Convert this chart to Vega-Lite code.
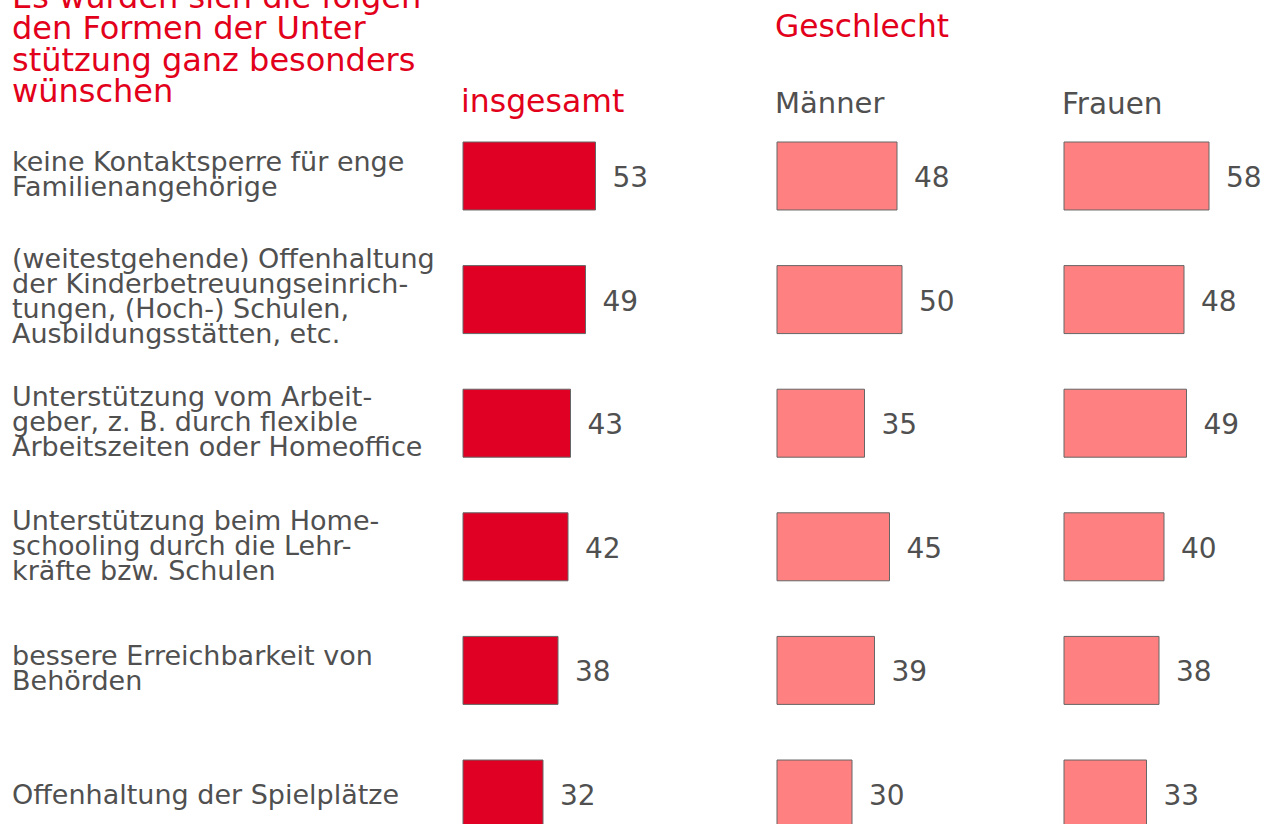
{
  "$schema": "https://vega.github.io/schema/vega-lite/v6.json",
  "padding": {"left": 12, "top": -19, "right": 0, "bottom": 0},
  "autosize": {"type": "pad"},
  "background": "white",
  "spacing": 0,
  "bounds": "flush",
  "config": {"view": {"stroke": null}, "font": "DejaVu Sans"},
  "resolve": {"scale": {"x": "independent", "y": "shared"}},
  "data": {"values": [
    {"item": "keine Kontaktsperre für enge\nFamilienangehörige", "group": "insgesamt", "value": 53},
    {"item": "keine Kontaktsperre für enge\nFamilienangehörige", "group": "Männer", "value": 48},
    {"item": "keine Kontaktsperre für enge\nFamilienangehörige", "group": "Frauen", "value": 58},
    {"item": "(weitestgehende) Offenhaltung\nder Kinderbetreuungseinrich-\ntungen, (Hoch-) Schulen,\nAusbildungsstätten, etc.", "group": "insgesamt", "value": 49},
    {"item": "(weitestgehende) Offenhaltung\nder Kinderbetreuungseinrich-\ntungen, (Hoch-) Schulen,\nAusbildungsstätten, etc.", "group": "Männer", "value": 50},
    {"item": "(weitestgehende) Offenhaltung\nder Kinderbetreuungseinrich-\ntungen, (Hoch-) Schulen,\nAusbildungsstätten, etc.", "group": "Frauen", "value": 48},
    {"item": "Unterstützung vom Arbeit-\ngeber,  z. B. durch flexible\nArbeitszeiten oder Homeoffice", "group": "insgesamt", "value": 43},
    {"item": "Unterstützung vom Arbeit-\ngeber,  z. B. durch flexible\nArbeitszeiten oder Homeoffice", "group": "Männer", "value": 35},
    {"item": "Unterstützung vom Arbeit-\ngeber,  z. B. durch flexible\nArbeitszeiten oder Homeoffice", "group": "Frauen", "value": 49},
    {"item": "Unterstützung beim Home-\nschooling durch die Lehr-\nkräfte bzw. Schulen", "group": "insgesamt", "value": 42},
    {"item": "Unterstützung beim Home-\nschooling durch die Lehr-\nkräfte bzw. Schulen", "group": "Männer", "value": 45},
    {"item": "Unterstützung beim Home-\nschooling durch die Lehr-\nkräfte bzw. Schulen", "group": "Frauen", "value": 40},
    {"item": "bessere Erreichbarkeit von\nBehörden", "group": "insgesamt", "value": 38},
    {"item": "bessere Erreichbarkeit von\nBehörden", "group": "Männer", "value": 39},
    {"item": "bessere Erreichbarkeit von\nBehörden", "group": "Frauen", "value": 38},
    {"item": "Offenhaltung der Spielplätze", "group": "insgesamt", "value": 32},
    {"item": "Offenhaltung der Spielplätze", "group": "Männer", "value": 30},
    {"item": "Offenhaltung der Spielplätze", "group": "Frauen", "value": 33}
  ]},
  "hconcat": [
    {
      "width": 451, "height": 686,
      "title": {"text": ["Es würden sich die folgen", "den Formen der Unter", "stützung ganz besonders", "wünschen"], "anchor": "start", "frame": "group", "fontSize": 32, "lineHeight": 31.5, "color": "#E2001A", "fontWeight": "normal", "offset": 33},
      "transform": [{"filter": "datum.group === 'insgesamt'"}],
      "encoding": {
        "y": {"field": "item", "type": "nominal", "sort": ["keine Kontaktsperre für enge\nFamilienangehörige", "(weitestgehende) Offenhaltung\nder Kinderbetreuungseinrich-\ntungen, (Hoch-) Schulen,\nAusbildungsstätten, etc.", "Unterstützung vom Arbeit-\ngeber,  z. B. durch flexible\nArbeitszeiten oder Homeoffice", "Unterstützung beim Home-\nschooling durch die Lehr-\nkräfte bzw. Schulen", "bessere Erreichbarkeit von\nBehörden", "Offenhaltung der Spielplätze"], "scale": {"type": "band", "paddingInner": 0.45, "paddingOuter": 0}, "axis": null},
        "x": {"datum": 0, "type": "quantitative", "scale": {"domain": [0, 1]}, "axis": null},
        "text": {"field": "item"}
      },
      "layer": [
        {"transform": [{"filter": "length(split(datum.item, '\\n')) == 1"}], "mark": {"type": "text", "align": "left", "baseline": "middle", "lineBreak": "\n", "fontSize": 27, "lineHeight": 25, "color": "#505050", "dy": 2}},
        {"transform": [{"filter": "length(split(datum.item, '\\n')) == 2"}], "mark": {"type": "text", "align": "left", "baseline": "middle", "lineBreak": "\n", "fontSize": 27, "lineHeight": 25, "color": "#505050", "dy": -13}},
        {"transform": [{"filter": "length(split(datum.item, '\\n')) == 3"}], "mark": {"type": "text", "align": "left", "baseline": "middle", "lineBreak": "\n", "fontSize": 27, "lineHeight": 25, "color": "#505050", "dy": -25}},
        {"transform": [{"filter": "length(split(datum.item, '\\n')) == 4"}], "mark": {"type": "text", "align": "left", "baseline": "middle", "lineBreak": "\n", "fontSize": 27, "lineHeight": 25, "color": "#505050", "dy": -40}}
      ]
    },
    {
      "width": 314, "height": 686,
      "title": {"text": "insgesamt", "anchor": "start", "frame": "group", "fontSize": 31.5, "color": "#E2001A", "fontWeight": "normal", "offset": 23, "dx": -2},
      "transform": [{"filter": "datum.group === 'insgesamt'"}],
      "encoding": {
        "y": {"field": "item", "type": "nominal", "sort": ["keine Kontaktsperre für enge\nFamilienangehörige", "(weitestgehende) Offenhaltung\nder Kinderbetreuungseinrich-\ntungen, (Hoch-) Schulen,\nAusbildungsstätten, etc.", "Unterstützung vom Arbeit-\ngeber,  z. B. durch flexible\nArbeitszeiten oder Homeoffice", "Unterstützung beim Home-\nschooling durch die Lehr-\nkräfte bzw. Schulen", "bessere Erreichbarkeit von\nBehörden", "Offenhaltung der Spielplätze"], "scale": {"type": "band", "paddingInner": 0.45, "paddingOuter": 0}, "axis": null},
        "x": {"field": "value", "type": "quantitative", "scale": {"domain": [0, 125.6], "nice": false, "zero": true}, "axis": null}
      },
      "layer": [
        {"mark": {"type": "bar", "color": "#E00024", "stroke": "#666666", "strokeWidth": 1}},
        {"mark": {"type": "text", "align": "left", "baseline": "middle", "dx": 17, "dy": 3, "fontSize": 28, "color": "#505050"}, "encoding": {"text": {"field": "value"}}}
      ]
    },
    {
      "width": 287, "height": 686,
      "title": {"text": "Geschlecht", "subtitle": "Männer", "anchor": "start", "frame": "group", "fontSize": 31.3, "color": "#E2001A", "fontWeight": "normal", "subtitleFontSize": 29, "subtitleColor": "#505050", "subtitlePadding": 46, "offset": 23, "dx": -2},
      "transform": [{"filter": "datum.group === 'Männer'"}],
      "encoding": {
        "y": {"field": "item", "type": "nominal", "sort": ["keine Kontaktsperre für enge\nFamilienangehörige", "(weitestgehende) Offenhaltung\nder Kinderbetreuungseinrich-\ntungen, (Hoch-) Schulen,\nAusbildungsstätten, etc.", "Unterstützung vom Arbeit-\ngeber,  z. B. durch flexible\nArbeitszeiten oder Homeoffice", "Unterstützung beim Home-\nschooling durch die Lehr-\nkräfte bzw. Schulen", "bessere Erreichbarkeit von\nBehörden", "Offenhaltung der Spielplätze"], "scale": {"type": "band", "paddingInner": 0.45, "paddingOuter": 0}, "axis": null},
        "x": {"field": "value", "type": "quantitative", "scale": {"domain": [0, 114.8], "nice": false, "zero": true}, "axis": null}
      },
      "layer": [
        {"mark": {"type": "bar", "color": "#FF8080", "stroke": "#666666", "strokeWidth": 1}},
        {"mark": {"type": "text", "align": "left", "baseline": "middle", "dx": 17, "dy": 3, "fontSize": 28, "color": "#505050"}, "encoding": {"text": {"field": "value"}}}
      ]
    },
    {
      "width": 200, "height": 686,
      "title": {"text": "Frauen", "anchor": "start", "frame": "group", "fontSize": 29.5, "color": "#505050", "fontWeight": "normal", "offset": 21, "dx": -2},
      "transform": [{"filter": "datum.group === 'Frauen'"}],
      "encoding": {
        "y": {"field": "item", "type": "nominal", "sort": ["keine Kontaktsperre für enge\nFamilienangehörige", "(weitestgehende) Offenhaltung\nder Kinderbetreuungseinrich-\ntungen, (Hoch-) Schulen,\nAusbildungsstätten, etc.", "Unterstützung vom Arbeit-\ngeber,  z. B. durch flexible\nArbeitszeiten oder Homeoffice", "Unterstützung beim Home-\nschooling durch die Lehr-\nkräfte bzw. Schulen", "bessere Erreichbarkeit von\nBehörden", "Offenhaltung der Spielplätze"], "scale": {"type": "band", "paddingInner": 0.45, "paddingOuter": 0}, "axis": null},
        "x": {"field": "value", "type": "quantitative", "scale": {"domain": [0, 80], "nice": false, "zero": true}, "axis": null}
      },
      "layer": [
        {"mark": {"type": "bar", "color": "#FF8080", "stroke": "#666666", "strokeWidth": 1}},
        {"mark": {"type": "text", "align": "left", "baseline": "middle", "dx": 17, "dy": 3, "fontSize": 28, "color": "#505050"}, "encoding": {"text": {"field": "value"}}}
      ]
    }
  ]
}
